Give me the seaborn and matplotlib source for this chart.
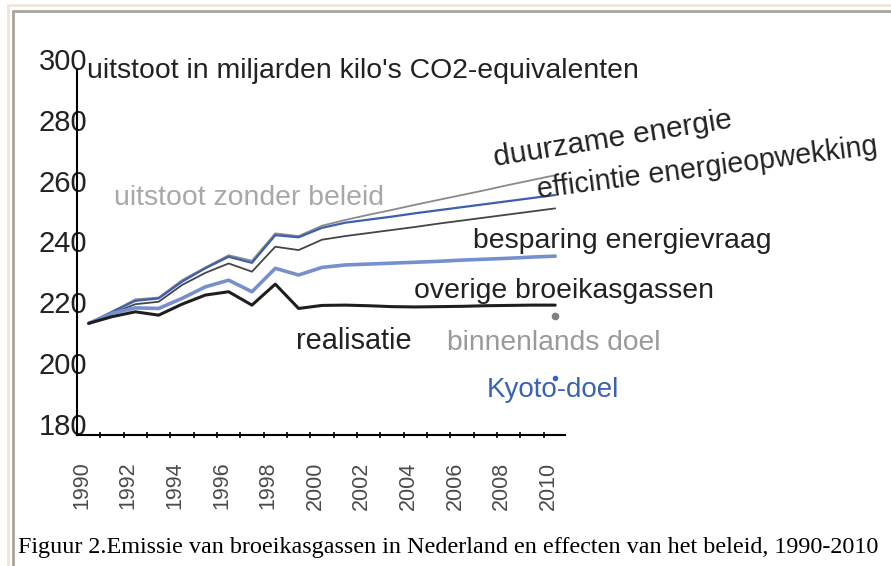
import numpy as np
import pandas as pd
import matplotlib
matplotlib.use('Agg')
import matplotlib.pyplot as plt
from matplotlib.lines import Line2D
import seaborn as sns

# data (aflezing uit figuur)
jaren = list(range(1990, 2011))
realisatie = [216.7, 218.9, 220.5, 219.4, 223.0, 226.0, 227.1, 222.7, 229.6, 221.6, 222.6,
              222.7, 222.5, 222.2, 222.1, 222.2, 222.3, 222.5, 222.6, 222.7, 222.7]
overige = [216.7, 220.0, 221.8, 221.6, 224.9, 228.7, 230.9, 227.1, 234.8, 232.6, 235.1,
           235.9, 236.2, 236.5, 236.8, 237.1, 237.5, 237.8, 238.1, 238.5, 238.8]
besparing = [216.7, 220.0, 223.0, 223.8, 229.3, 233.3, 236.4, 233.7, 241.9, 240.8, 244.2,
             245.4, 246.4, 247.4, 248.4, 249.5, 250.5, 251.5, 252.5, 253.5, 254.5]
efficientie = [216.7, 220.5, 224.1, 224.9, 230.4, 234.8, 238.6, 236.6, 245.7, 245.0, 248.1,
               249.8, 250.8, 251.8, 252.9, 253.9, 254.9, 255.9, 256.9, 257.9, 258.9]
zonder_beleid = [216.7, 220.5, 224.6, 225.2, 230.9, 235.1, 239.1, 237.3, 246.3, 245.4, 248.8,
                 250.7, 252.4, 254.0, 255.7, 257.3, 258.9, 260.5, 262.2, 263.8, 265.4]
doel_jaar = 2010
binnenlands_doel = 219.1
kyoto_doel = 198.8
y_ticks = [180, 200, 220, 240, 260, 280, 300]
x_labels = [str(j) for j in jaren if j % 2 == 0]

df = pd.DataFrame({'jaar': jaren, 'realisatie': realisatie, 'overige': overige,
                   'besparing': besparing, 'efficientie': efficientie,
                   'zonder_beleid': zonder_beleid})

sns.set_theme(style='white')
plt.rcParams['font.family'] = ['Liberation Sans', 'DejaVu Sans']

W, H = 891, 566
fig = plt.figure(figsize=(W / 100, H / 100), dpi=100)
fig.patch.set_facecolor('white')


def fx(x):
    return x / W


def fy(y):
    return 1 - y / H


ax = fig.add_axes([fx(77), fy(435), (565 - 77) / W, (435 - 70) / H])
ax.set_facecolor('none')

sns.lineplot(data=df, x='jaar', y='zonder_beleid', color='#8a8a8a', lw=1.3, ax=ax)
sns.lineplot(data=df, x='jaar', y='efficientie', color='#3d5fae', lw=1.6, ax=ax)
sns.lineplot(data=df, x='jaar', y='besparing', color='#454545', lw=1.3, ax=ax)
sns.lineplot(data=df, x='jaar', y='overige', color='#7590cc', lw=2.6, ax=ax)
sns.lineplot(data=df, x='jaar', y='realisatie', color='#1e1e1e', lw=2.2, ax=ax)
ax.plot([doel_jaar], [binnenlands_doel], 'o', color='#808080', ms=4.5)
ax.plot([doel_jaar], [kyoto_doel], 'o', color='#3a62b5', ms=3)

ax.set_xlim(1989.5, 2010.42)
ax.set_ylim(180, 300)
ax.set_xlabel('')
ax.set_ylabel('')
ax.grid(False)

for s in ['top', 'right']:
    ax.spines[s].set_visible(False)
for s in ['left', 'bottom']:
    ax.spines[s].set_color('black')
    ax.spines[s].set_linewidth(1.5)

ax.set_yticks(y_ticks)
ax.set_yticklabels([str(v) for v in y_ticks])
ax.tick_params(axis='y', length=0, pad=-7.5, labelsize=21, labelcolor='#222222')
for lab in ax.get_yticklabels():
    lab.set_verticalalignment('baseline')

ax.set_xticks([int(l) - 0.3 for l in x_labels])
ax.set_xticklabels(x_labels)
ax.set_xticks([j + 0.5 for j in jaren[:-1]], minor=True)
ax.tick_params(axis='x', which='major', length=0, pad=19, labelsize=15.5,
               labelcolor='#4a4a4a', labelrotation=90)
ax.tick_params(axis='x', which='minor', direction='inout', length=5, width=1.2,
               color='black', bottom=True)

# teksten
fig.text(fx(87), fy(78), "uitstoot in miljarden kilo's CO2-equivalenten", fontsize=20.4,
         color='#222222', va='baseline')
fig.text(fx(114), fy(205), 'uitstoot zonder beleid', fontsize=20.4, color='#a8a8a8', va='baseline')
fig.text(fx(495), fy(166), 'duurzame energie', fontsize=21.5, color='#222222', va='baseline',
         ha='left', rotation=9.2, rotation_mode='anchor')
fig.text(fx(538), fy(198), 'efficintie energieopwekking', fontsize=20.6, color='#222222',
         va='baseline', ha='left', rotation=7.4, rotation_mode='anchor')
fig.text(fx(473), fy(248), 'besparing energievraag', fontsize=20.4, color='#222222', va='baseline')
fig.text(fx(414), fy(298), 'overige broeikasgassen', fontsize=20.4, color='#222222', va='baseline')
fig.text(fx(296), fy(349), 'realisatie', fontsize=20.8, color='#222222', va='baseline')
fig.text(fx(447), fy(350), 'binnenlands doel', fontsize=20.3, color='#9a9a9a', va='baseline')
fig.text(fx(487), fy(397), 'Kyoto-doel', fontsize=20, color='#3a62b5', va='baseline')

fig.text(fx(18), fy(553), 'Figuur 2.Emissie van broeikasgassen in Nederland en effecten van het beleid, 1990-2010',
         fontsize=17.4, family='Liberation Serif', color='black', va='baseline')

# kaderlijnen
fig.add_artist(Line2D([fx(8), fx(8)], [0, fy(5)], transform=fig.transFigure, color='#efe7d6', lw=2))
fig.add_artist(Line2D([fx(8), 1], [fy(5), fy(5)], transform=fig.transFigure, color='#efe7d6', lw=2))
fig.add_artist(Line2D([fx(12.5), fx(12.5)], [0, fy(11)], transform=fig.transFigure, color='#a8a69c', lw=2))
fig.add_artist(Line2D([fx(12.5), 1], [fy(11), fy(11)], transform=fig.transFigure, color='#a8a69c', lw=2))

fig.savefig('out.png', dpi=100)
